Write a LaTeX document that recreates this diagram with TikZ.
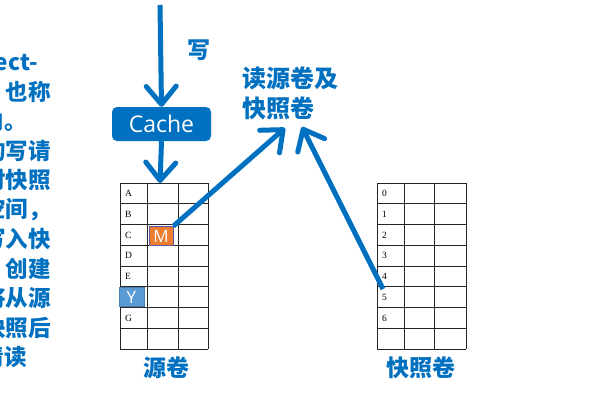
\documentclass[tikz,border=0pt]{standalone}
\usepackage{fontspec}
\setmainfont{Liberation Serif}
\newfontfamily\cjk{Noto Sans CJK SC}
\newfontfamily\uisans{Open Sans}
\usetikzlibrary{arrows.meta}
\definecolor{mblue}{HTML}{0070C0}
\definecolor{lblue}{HTML}{5B9BD5}
\definecolor{morange}{HTML}{ED7D31}
\tikzset{
  bigarrow/.style={draw=mblue, line width=5pt, -{Straight Barb[length=18pt,width=30pt,round]}},
  bluetext/.style={text=mblue, font=\cjk\bfseries\fontsize{23}{25}\selectfont, inner sep=0pt},
  lefttext/.style={text=mblue, font=\cjk\bfseries\fontsize{22.5}{24}\selectfont, inner sep=0pt, anchor=east},
  cachebox/.style={fill=mblue, rounded corners=5pt, minimum width=99pt, minimum height=34pt, text=white, font=\uisans\fontsize{23}{25}\selectfont, inner sep=0pt},
  cellbox/.style={minimum width=24pt, minimum height=19pt, inner sep=0pt, text=white, font=\uisans\fontsize{17}{18}\selectfont},
  gridline/.style={draw=black!85, line width=1pt},
  rowlabel/.style={font=\fontsize{9.5}{10}\selectfont, inner sep=0pt, anchor=west}
}
\begin{document}
\begin{tikzpicture}[x=1pt,y=-1pt]
\clip (0,0) rectangle (600,400);
\fill[white] (0,0) rectangle (600,400);
% left cut-off paragraph
\node[lefttext] (l1) at (38,62) {ROW（Redirect-};
\node[lefttext] (l2) at (51,91.5) {On-Write） 也称};
\node[lefttext] (l3) at (27,121) {为重定向。};
\node[lefttext] (l4) at (51,150.5) {在源卷的写请};
\node[lefttext] (l5) at (51,180) {求时对快照};
\node[lefttext] (l6) at (51,209.5) {分配新空间，};
\node[lefttext] (l7) at (51,239) {将数据写入快};
\node[lefttext] (l8) at (51,268.5) {照。在 创建};
\node[lefttext] (l9) at (51,298) {快照后将从源};
\node[lefttext] (l10) at (51,327.5) {卷读快照后};
\node[lefttext] (l11) at (27,357) {的请读};
% grids
\foreach \x in {120,147,178,208} \draw[gridline] (\x,183) -- (\x,349);
\foreach \x in {377,404,434,466} \draw[gridline] (\x,183) -- (\x,349);
\foreach \i in {0,...,8} {
  \draw[gridline] (120,183+20.75*\i) -- (208,183+20.75*\i);
  \draw[gridline] (377,183+20.75*\i) -- (466,183+20.75*\i);
}
\foreach \t [count=\i from 0] in {A,B,C,D,E,,G} \node[rowlabel] (s\i) at (125,193.4+20.75*\i) {\t};
\foreach \t [count=\i from 0] in {0,1,2,3,4,5,6} \node[rowlabel] (n\i) at (382,193.4+20.75*\i) {\t};
\coordinate (gtop) at (160,183);
% cells
\node[cellbox, fill=morange, draw=gray!70!blue, line width=0.8pt] (M) at (161,236) {M};
\node[cellbox, fill=lblue, draw=lblue!80!black, line width=0.8pt, minimum width=25pt] (Y) at (131.5,297) {Y};
% cache
\node[cachebox] (cache) at (161.5,124) {Cache};
\coordinate (top) at (160,5);
\node[bluetext] (w) at (199,50) {写};
\node[bluetext, align=left, anchor=north west, font=\cjk\bfseries\fontsize{24}{30}\selectfont] (read) at (242,67) {读源卷及\\快照卷};
\coordinate (t1) at (285,128);
\coordinate (t2) at (302,127);
\coordinate (s5) at (383,289);
\node[bluetext] (src) at (166,368) {源卷};
\node[bluetext] (snap) at (421,368) {快照卷};
% arrows
\draw[bigarrow] (top) -- (cache.north);
\draw[bigarrow] (cache.south) -- (gtop);
\draw[bigarrow] (M.north east) -- (t1);
\draw[bigarrow] (s5) -- (t2);
\end{tikzpicture}
\end{document}
